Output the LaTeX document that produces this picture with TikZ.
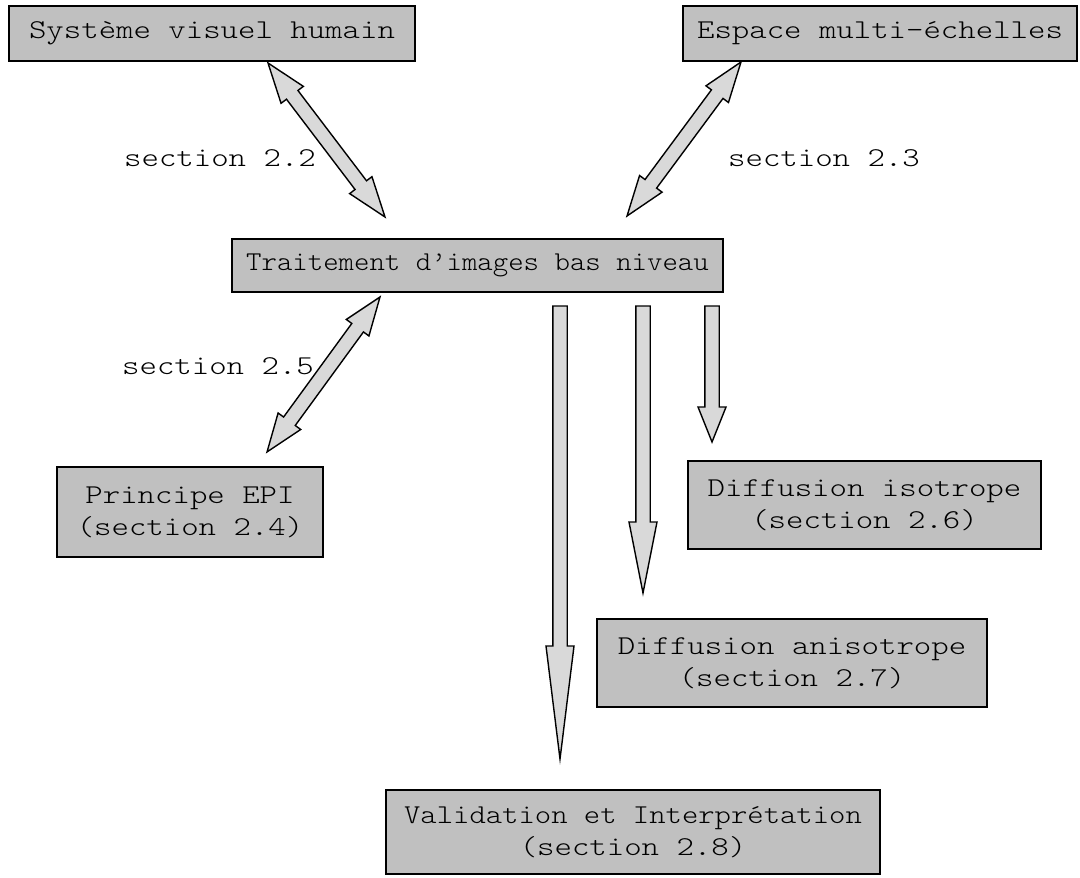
\documentclass[tikz,border=0pt]{standalone}
\usepackage{fontspec}
\setmonofont[FakeStretch=1.22]{Latin Modern Mono Light}
\newfontfamily\trfont[FakeStretch=1.08]{Latin Modern Mono Light}
\newfontfamily\vafont[FakeStretch=1.145]{Latin Modern Mono Light}
\usetikzlibrary{calc}
\definecolor{boxgray}{HTML}{C0C0C0}
\definecolor{arrowgray}{HTML}{D9D9D9}
\tikzset{
  gbox/.style = {draw, line width=0.7pt, fill=boxgray, inner sep=0pt, align=center},
  fat/.style = {draw, line width=0.7pt, fill=arrowgray, line join=miter}
}
\newcommand\arrowdir[2]{%
  \path let \p1=(#1), \p2=(#2) in \pgfextra{%
    \pgfmathsetmacro\arrang{atan2(\y2-\y1,\x2-\x1)}%
    \pgfmathsetmacro\arrlen{veclen(\x2-\x1,\y2-\y1)}%
    \global\let\arrang\arrang \global\let\arrlen\arrlen};}
\newcommand\fatarrow[3]{\arrowdir{#1}{#2}%
  \draw[fat, shift={(#1)}, rotate=\arrang] (0pt,-3.6pt) -- ({(\arrlen-#3)*1pt},-3.6pt)
    -- ({(\arrlen-#3)*1pt},-7pt) -- (\arrlen pt,0pt) -- ({(\arrlen-#3)*1pt},7pt)
    -- ({(\arrlen-#3)*1pt},3.6pt) -- (0pt,3.6pt) -- cycle;}
\newcommand\dblarrow[3]{\arrowdir{#1}{#2}%
  \draw[fat, shift={(#1)}, rotate=\arrang] (0pt,0pt) -- (#3pt,7pt) -- (#3pt,3.6pt)
    -- ({(\arrlen-#3)*1pt},3.6pt) -- ({(\arrlen-#3)*1pt},7pt) -- (\arrlen pt,0pt)
    -- ({(\arrlen-#3)*1pt},-7pt) -- ({(\arrlen-#3)*1pt},-3.6pt) -- (#3pt,-3.6pt)
    -- (#3pt,-7pt) -- cycle;}
\begin{document}
\begin{tikzpicture}[x=0.5pt, y=-0.5pt, font=\ttfamily\fontsize{13.6}{16}\selectfont]
\useasboundingbox (0,0) rectangle (1080,877);
\node[gbox, minimum width=203pt, minimum height=27.5pt] (sys) at (212,33.5) {Système visuel humain};
\node[gbox, minimum width=197pt, minimum height=27.5pt] (esp) at (880,33.5) {Espace multi-échelles};
\node[gbox, minimum width=245.5pt, minimum height=26.5pt] (trait) at (477.5,265.5) {\trfont Traitement d’images bas niveau};
\node[gbox, minimum width=133pt, minimum height=45pt] (epi) at (190,512) {Principe EPI\\(section 2.4)};
\node[gbox, minimum width=176.5pt, minimum height=44pt] (iso) at (864.5,505) {Diffusion isotrope\\(section 2.6)};
\node[gbox, minimum width=195pt, minimum height=44pt] (aniso) at (792,663) {Diffusion anisotrope\\(section 2.7)};
\node[gbox, minimum width=247pt, minimum height=42pt] (valid) at (633,832) {\vafont Validation et Interprétation\\(section 2.8)};
\node (s22) at (220,158) {section 2.2};
\node (s23) at (824,158) {section 2.3};
\node (s25) at (218,366) {section 2.5};
\coordinate (sysend) at (268,63);
\coordinate (traitsys) at (385,217);
\coordinate (espend) at (741,62);
\coordinate (traitesp) at (627,216);
\coordinate (traitepi) at (380,297);
\coordinate (epiend) at (267,452);
\coordinate (validstart) at (560,306);
\coordinate (validend) at (560,759);
\coordinate (anisostart) at (643,306);
\coordinate (anisoend) at (643,593);
\coordinate (isostart) at (712,306);
\coordinate (isoend) at (712,442);
\dblarrow{sysend}{traitsys}{20}
\dblarrow{espend}{traitesp}{20}
\dblarrow{traitepi}{epiend}{19}
\fatarrow{validstart}{validend}{56.5}
\fatarrow{anisostart}{anisoend}{35.5}
\fatarrow{isostart}{isoend}{17.5}
\end{tikzpicture}
\end{document}
